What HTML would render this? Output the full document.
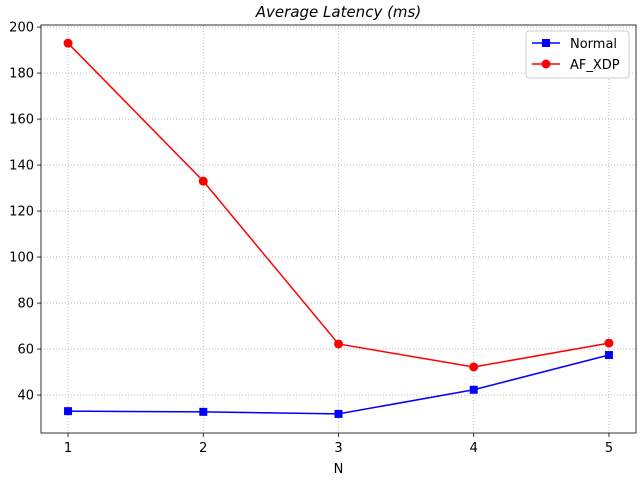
<!DOCTYPE html>
<html><head><meta charset="utf-8"><style>
html,body{margin:0;padding:0;background:#fff;}
svg text{font-family:"DejaVu Sans","Liberation Sans",sans-serif;}
</style></head><body>
<svg id="chart" width="640" height="480" xmlns="http://www.w3.org/2000/svg"></svg>
<script>
const categories=[1,2,3,4,5];
const normalValues=[33,32.7,31.8,42.3,57.4];
const afxdpValues=[193,133,62.2,52.2,62.6];
const yTicks=[40,60,80,100,120,140,160,180,200];
const xTicks=[1,2,3,4,5];
const L=41,R=636,T=25,B=433;
const xMin=0.8,xMax=5.2,yMin=23.5,yMax=200.9;
const sx=v=>L+(v-xMin)/(xMax-xMin)*(R-L);
const sy=v=>B-(v-yMin)/(yMax-yMin)*(B-T);
const svg=document.getElementById('chart');
const NS='http://www.w3.org/2000/svg';
function mk(tag,attrs,parent){const e=document.createElementNS(NS,tag);for(const k in attrs)e.setAttribute(k,attrs[k]);(parent||svg).appendChild(e);return e;}
const grid=mk('g',{});


xTicks.forEach(t=>{const x=sx(t);
 mk('line',{x1:x,x2:x,y1:T,y2:B,stroke:'#b0b0b0','stroke-width':0.8,'stroke-dasharray':'1,2'},grid);
 mk('line',{x1:x,x2:x,y1:B,y2:B+4,stroke:'#000','stroke-width':0.8});
 const tx=mk('text',{x:x,y:B+19,'font-size':13,'text-anchor':'middle'});tx.textContent=t;
 
 
});
yTicks.forEach(t=>{const y=sy(t);
 mk('line',{x1:L,x2:R,y1:y,y2:y,stroke:'#b0b0b0','stroke-width':0.8,'stroke-dasharray':'1,2'},grid);
 mk('line',{x1:L-4,x2:L,y1:y,y2:y,stroke:'#000','stroke-width':0.8});
 const tx=mk('text',{x:L-7,y:y+4.5,'font-size':13,'text-anchor':'end'});tx.textContent=t;
 
 
});
function series(vals,color,marker,name){
 const g=mk('g',{});
 
 
 mk('polyline',{points:vals.map((v,i)=>sx(categories[i])+','+sy(v)).join(' '),fill:'none',stroke:color,'stroke-width':1.5},g);
 vals.forEach((v,i)=>{const x=sx(categories[i]),y=sy(v);
  let m;
  if(marker==='s')m=mk('rect',{x:x-4,y:y-4,width:8,height:8,fill:color},g);
  else m=mk('circle',{cx:x,cy:y,r:4.5,fill:color},g);
  
  
 });
}
series(normalValues,'#0000ff','s','series-normal');
series(afxdpValues,'#ff0000','o','series-afxdp');
const frame=mk('rect',{x:L,y:T,width:R-L,height:B-T,fill:'none',stroke:'#000','stroke-width':0.8});


const title=mk('text',{x:(L+R)/2,y:17,'font-size':15,'text-anchor':'middle','font-style':'italic'});title.textContent='Average Latency (ms)';


const xl=mk('text',{x:(L+R)/2,y:473,'font-size':13,'text-anchor':'middle'});xl.textContent='N';


const lg=mk('g',{});


mk('rect',{x:526,y:31,width:103,height:47,rx:3,fill:'#fff','fill-opacity':0.8,stroke:'#ccc'},lg);
mk('line',{x1:532,x2:560,y1:43,y2:43,stroke:'#0000ff','stroke-width':1.5},lg);
mk('rect',{x:542,y:39,width:8,height:8,fill:'#0000ff'},lg);
let t1=mk('text',{x:570,y:48,'font-size':13},lg);t1.textContent='Normal';


mk('line',{x1:532,x2:560,y1:64,y2:64,stroke:'#ff0000','stroke-width':1.5},lg);
mk('circle',{cx:546,cy:64,r:4.5,fill:'#ff0000'},lg);
let t2=mk('text',{x:570,y:69,'font-size':13},lg);t2.textContent='AF_XDP';


</script>
</body></html>
